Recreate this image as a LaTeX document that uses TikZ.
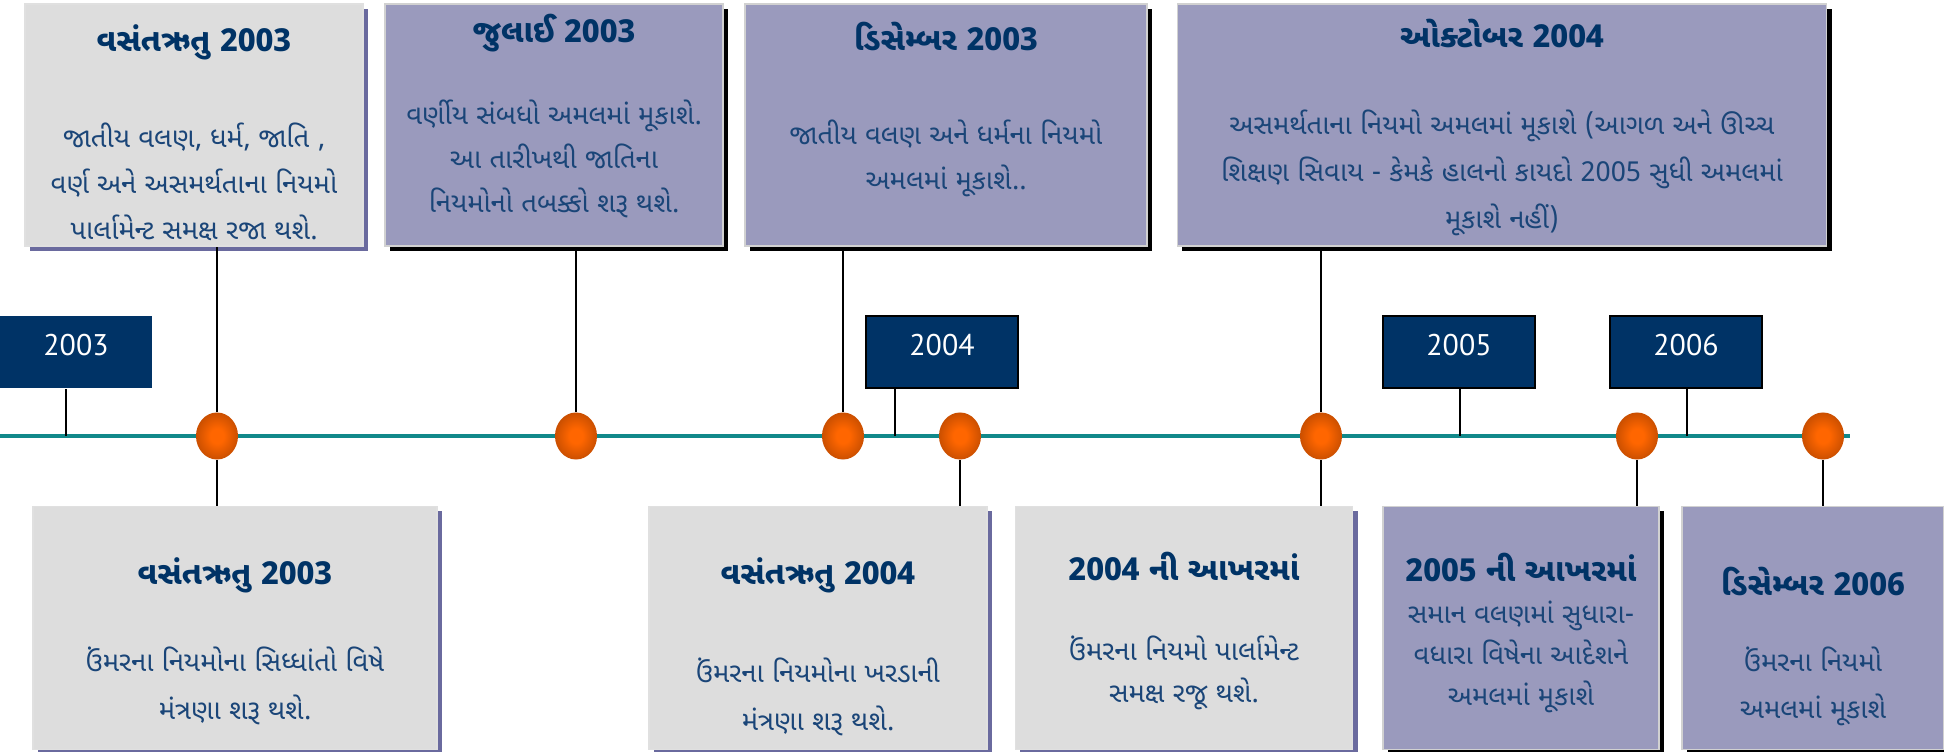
\documentclass[tikz,border=0pt]{standalone}
\usepackage{fontspec}
\newfontfamily\guj[Script=Gujarati]{Noto Sans Gujarati UI}
\newfontfamily\yearfont{PT Sans}
\usetikzlibrary{positioning, shapes.geometric, shadows}

\definecolor{navy}{HTML}{003366}
\definecolor{inkblue}{HTML}{1A4578}
\definecolor{lilac}{HTML}{9A9ABD}
\definecolor{paleg}{HTML}{DDDDDD}
\definecolor{lilacshadow}{HTML}{6A6A9E}
\definecolor{axisteal}{HTML}{11898A}
\definecolor{dotlight}{HTML}{FF6600}
\definecolor{dotdark}{HTML}{8A3300}
\pgfdeclareradialshading{dotshade}{\pgfpoint{0bp}{0bp}}{color(0bp)=(dotlight); color(8bp)=(dotlight); color(46bp)=(dotdark); color(50bp)=(dotdark)}

\begin{document}
\begin{tikzpicture}[
    x=0.01cm, y=-0.01cm,
    graybox/.style={
        fill=paleg, draw=white!88!black, inner sep=0pt,
        minimum height=2.42cm,
        general shadow={fill=lilacshadow, shadow xshift=0.05cm, shadow yshift=-0.05cm}
    },
    lilacbox/.style={
        fill=lilac, draw=white!82!black, inner sep=0pt,
        minimum height=2.42cm,
        general shadow={fill=black, shadow xshift=0.05cm, shadow yshift=-0.05cm}
    },
    yearbox/.style={
        fill=navy, draw=black, line width=0.6pt, inner sep=0pt,
        minimum width=1.52cm, minimum height=0.72cm,
        text height=0.21cm, text depth=0.14cm,
        text=white, font=\yearfont\fontsize{8.5}{10}\selectfont
    },
    dot/.style={
        ellipse, inner sep=0pt, minimum width=0.42cm, minimum height=0.47cm,
        shading=dotshade
    },
    title/.style={font=\guj\bfseries\fontsize{9}{11}\selectfont, text=navy},
    body/.style={font=\guj\fontsize{7.8}{#1}\selectfont, text=inkblue, align=center},
    body/.default=13,
    link/.style={black, line width=0.5pt},
    axis/.style={axisteal, line width=1pt},
]
\useasboundingbox (0,0) rectangle (1944,752);

% Timeline
\coordinate (lineL) at (0,436);
\coordinate (lineR) at (1850,436);
\draw[axis] (lineL) -- (lineR);

% Year markers and their ticks
\node[yearbox, draw=none] (y03) at (76,352) {2003};
\node[yearbox] (y04) at (942,352) {2004};
\node[yearbox] (y05) at (1459,352) {2005};
\node[yearbox] (y06) at (1686,352) {2006};
\coordinate (t03) at (66,436);
\coordinate (t04) at (895,436);
\coordinate (t05) at (1460,436);
\coordinate (t06) at (1687,436);
\draw[link] (t03) -- (t03 |- y03.south);
\draw[link] (t04) -- (t04 |- y04.south);
\draw[link] (t05) -- (t05 |- y05.south);
\draw[link] (t06) -- (t06 |- y06.south);

% Events on the line
\node[dot] (e1) at (217,436) {};
\node[dot] (e2) at (576,436) {};
\node[dot] (e3) at (843,436) {};
\node[dot] (e4) at (960,436) {};
\node[dot] (e5) at (1321,436) {};
\node[dot] (e6) at (1637,436) {};
\node[dot] (e7) at (1823,436) {};

% Top row
\node[graybox, minimum width=3.38cm] (top1) at (194,125) {};
\node[title] (top1t) at (194,42) {વસંતઋતુ 2003};
\node[body=13] (top1b) at (194,182) {જાતીય વલણ, ધર્મ, જાતિ ,\\વર્ણ અને અસમર્થતાના નિયમો\\પાર્લામેન્ટ સમક્ષ રજા થશે.};

\node[lilacbox, minimum width=3.38cm] (top2) at (554,125) {};
\node[title] (top2t) at (554,33) {જુલાઈ 2003};
\node[body=12.5] (top2b) at (554,159) {વર્ણીય સંબધો અમલમાં મૂકાશે.\\આ તારીખથી જાતિના\\નિયમોનો તબક્કો શરૂ થશે.};

\node[lilacbox, minimum width=4.02cm] (top3) at (946,125) {};
\node[title] (top3t) at (946,36) {ડિસેમ્બર  2003};
\node[body=12.8] (top3b) at (946,158) {જાતીય વલણ અને ધર્મના નિયમો\\અમલમાં મૂકાશે..};

\node[lilacbox, minimum width=6.49cm] (top4) at (1502,125) {};
\node[title] (top4t) at (1502,33) {ઓક્ટોબર 2004};
\node[body=13.4] (top4b) at (1502,173) {અસમર્થતાના નિયમો અમલમાં મૂકાશે (આગળ અને ઊચ્ચ\\શિક્ષણ સિવાય - કેમકે હાલનો કાયદો 2005 સુધી અમલમાં\\મૂકાશે નહીં)};

% Bottom row
\node[graybox, minimum width=4.04cm, minimum height=2.43cm] (bot1) at (235,628) {};
\node[title] (bot1t) at (235,575) {વસંતઋતુ  2003};
\node[body=13.6] (bot1b) at (235,686) {ઉંમરના નિયમોના સિધ્ધાંતો વિષે\\મંત્રણા શરૂ થશે.};

\node[graybox, minimum width=3.38cm, minimum height=2.43cm] (bot2) at (818,628) {};
\node[title] (bot2t) at (818,575) {વસંતઋતુ 2004};
\node[body=13.6] (bot2b) at (818,697) {ઉંમરના નિયમોના ખરડાની\\મંત્રણા શરૂ થશે.};

\node[graybox, minimum width=3.37cm, minimum height=2.43cm] (bot3) at (1184,628) {};
\node[title] (bot3t) at (1184,566) {2004 ની આખરમાં};
\node[body=12] (bot3b) at (1184,673) {ઉંમરના નિયમો પાર્લામેન્ટ\\સમક્ષ રજૂ થશે.};

\node[lilacbox, minimum width=2.76cm, minimum height=2.43cm] (bot4) at (1521,628) {};
\node[title] (bot4t) at (1521,567) {2005 ની આખરમાં};
\node[body=11.7] (bot4b) at (1521,657) {સમાન વલણમાં સુધારા-\\વધારા વિષેના આદેશને\\અમલમાં મૂકાશે};

\node[lilacbox, minimum width=2.62cm, minimum height=2.43cm] (bot5) at (1813,628) {};
\node[title] (bot5t) at (1813,581) {ડિસેમ્બર 2006};
\node[body=13.4] (bot5b) at (1813,686) {ઉંમરના નિયમો\\અમલમાં મૂકાશે};

% Connectors from boxes to events
\draw[link] (e1.north) -- (e1.north |- top1.south);
\draw[link] (e2.north) -- (e2.north |- top2.south);
\draw[link] (e3.north) -- (e3.north |- top3.south);
\draw[link] (e5.north) -- (e5.north |- top4.south);
\draw[link] (e1.south) -- (e1.south |- bot1.north);
\draw[link] (e4.south) -- (e4.south |- bot2.north);
\draw[link] (e5.south) -- (e5.south |- bot3.north);
\draw[link] (e6.south) -- (e6.south |- bot4.north);
\draw[link] (e7.south) -- (e7.south |- bot5.north);

\end{tikzpicture}
\end{document}
